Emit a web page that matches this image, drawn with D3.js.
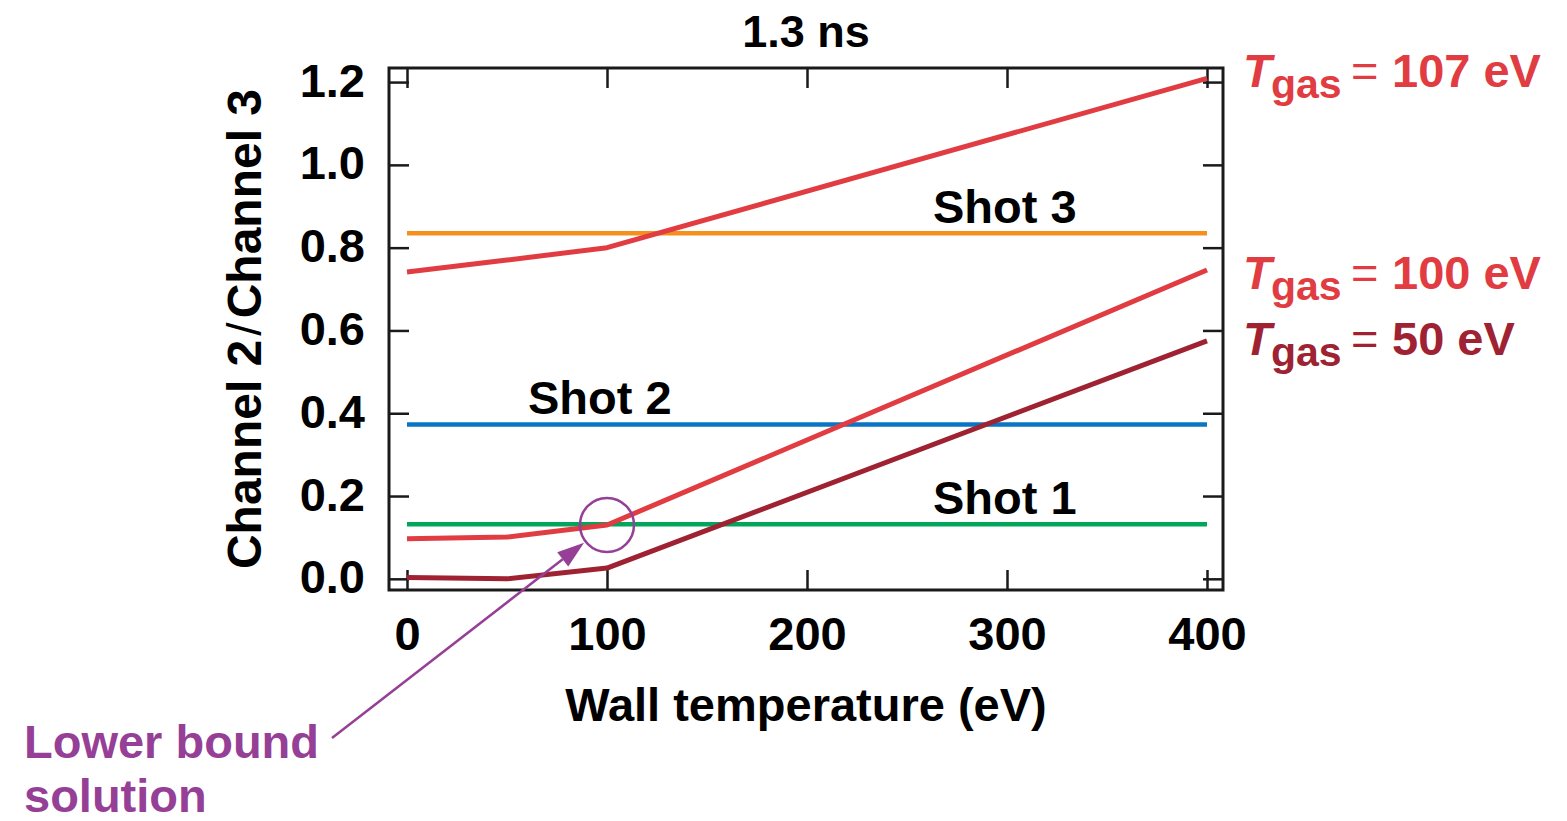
<!DOCTYPE html>
<html>
<head>
<meta charset="utf-8">
<script src="https://cdn.jsdelivr.net/npm/d3@7"></script>
<style>
  html, body { margin: 0; padding: 0; background: #fff; }
  svg { display: block; font-family: "Liberation Sans", Arial, Helvetica, sans-serif; }
</style>
</head>
<body>
<svg id="chart" width="1567" height="821"></svg>
<script>
// wall temperature (eV) where the model curves were computed
const wallTemps = [0, 50, 100, 400];

// channel ratio vs wall temperature, one array per gas temperature
const tgas107 = [0.741, 0.770, 0.800, 1.209];
const tgas100 = [0.097, 0.101, 0.130, 0.746];
const tgas50  = [0.003, 0.000, 0.026, 0.575];

// measured ratios (flat across wall temperature)
const shotNames  = ["Shot 3", "Shot 2", "Shot 1"];
const shotValues = [0.835, 0.373, 0.132];

const xTicks = [0, 100, 200, 300, 400];
const yTicks = [0, 0.2, 0.4, 0.6, 0.8, 1.0, 1.2];

const width = 1567, height = 821;
const marginLeft = 389, marginRight = 1223, marginTop = 68, marginBottom = 590;

const red = "#e03c42", darkRed = "#9e2232", purple = "#963f96";
const shotColors = ["#f4911e", "#0a75c2", "#00a65a"];

const svg = d3.select("#chart");

const x = d3.scaleLinear().domain([-9, 408]).range([marginLeft, marginRight]);
const y = d3.scaleLinear().domain([-0.027, 1.234]).range([marginBottom, marginTop]);

// 坐标轴：刻度朝内，四边都有
const tick = 20;
svg.append("g")
    .attr("transform", `translate(${marginLeft},0)`)
    .call(d3.axisLeft(y).tickValues(yTicks).tickSize(-tick).tickPadding(24).tickFormat(d3.format(".1f")))
    .call(g => g.select(".domain").remove())
    .call(g => g.selectAll(".tick line").attr("stroke", "#1a1a1a").attr("stroke-width", 2.5))
    .call(g => g.selectAll(".tick text")
        .attr("font-size", 47).attr("font-weight", "bold").attr("fill", "#000")
        .attr("dy", "0.3em"));

svg.append("g")
    .attr("transform", `translate(${marginRight},0)`)
    .call(d3.axisRight(y).tickValues(yTicks).tickSize(-tick).tickFormat(""))
    .call(g => g.select(".domain").remove())
    .call(g => g.selectAll(".tick line").attr("stroke", "#1a1a1a").attr("stroke-width", 2.5));

svg.append("g")
    .attr("transform", `translate(0,${marginBottom})`)
    .call(d3.axisBottom(x).tickValues(xTicks).tickSize(-tick).tickPadding(27))
    .call(g => g.select(".domain").remove())
    .call(g => g.selectAll(".tick line").attr("stroke", "#1a1a1a").attr("stroke-width", 2.5))
    .call(g => g.selectAll(".tick text")
        .attr("font-size", 47).attr("font-weight", "bold").attr("fill", "#000"));

svg.append("g")
    .attr("transform", `translate(0,${marginTop})`)
    .call(d3.axisTop(x).tickValues(xTicks).tickSize(-tick).tickFormat(""))
    .call(g => g.select(".domain").remove())
    .call(g => g.selectAll(".tick line").attr("stroke", "#1a1a1a").attr("stroke-width", 2.5));

// frame
svg.append("rect")
    .attr("x", marginLeft).attr("y", marginTop)
    .attr("width", marginRight - marginLeft).attr("height", marginBottom - marginTop)
    .attr("fill", "none").attr("stroke", "#1a1a1a").attr("stroke-width", 3);

// shots: horizontal lines
const flat = d3.line().x(d => x(d[0])).y(d => y(d[1]));
shotValues.forEach((v, i) => {
    svg.append("path")
        .attr("d", flat([[0, v], [400, v]]))
        .attr("fill", "none").attr("stroke", shotColors[i]).attr("stroke-width", 4.5);
});

const shotLabelX = [263, 60.5, 263];
shotNames.forEach((name, i) => {
    svg.append("text")
        .attr("x", x(shotLabelX[i]))
        .attr("y", y(shotValues[i]) - 10)
        .attr("font-size", 47).attr("font-weight", "bold").attr("fill", "#000")
        .text(name);
});

// model curves
const curves = [
    { vals: tgas107, color: red,     label: "107 eV", baseline: 87 },
    { vals: tgas100, color: red,     label: "100 eV", baseline: 289 },
    { vals: tgas50,  color: darkRed, label: "50 eV",  baseline: 355 }
];
const line = d3.line().x((d, i) => x(wallTemps[i])).y(d => y(d));
curves.forEach(c => {
    svg.append("path")
        .attr("d", line(c.vals))
        .attr("fill", "none").attr("stroke", c.color)
        .attr("stroke-width", 5).attr("stroke-linejoin", "round");

    const t = svg.append("text")
        .attr("y", c.baseline)
        .attr("font-size", 47).attr("font-weight", "bold").attr("fill", c.color);
    t.append("tspan").attr("x", 1243).attr("font-style", "italic").text("T");
    t.append("tspan").attr("x", 1271).attr("dy", 11).attr("font-size", 41).text("gas");
    t.append("tspan").attr("x", 1351).attr("dy", -11).attr("font-weight", "normal").text("=");
    t.append("tspan").attr("x", 1392).text(c.label);
});

// title
svg.append("text")
    .attr("x", (marginLeft + marginRight) / 2).attr("y", 47)
    .attr("text-anchor", "middle")
    .attr("font-size", 45).attr("font-weight", "bold").attr("fill", "#000")
    .text("1.3 ns");

// axis titles
svg.append("text")
    .attr("x", (marginLeft + marginRight) / 2).attr("y", 721)
    .attr("text-anchor", "middle")
    .attr("font-size", 47).attr("font-weight", "bold").attr("fill", "#000")
    .text("Wall temperature (eV)");

const yl = svg.append("text")
    .attr("transform", `translate(261,${(marginTop + marginBottom) / 2}) rotate(-90)`)
    .attr("text-anchor", "middle")
    .attr("font-size", 48).attr("font-weight", "bold").attr("fill", "#000");
yl.append("tspan").text("Channel 2");
yl.append("tspan").attr("dx", 4).attr("font-weight", "normal").text("/");
yl.append("tspan").attr("dx", 4).text("Channel 3");

// lower bound annotation
const cx = x(100), cy = y(0.13), r = 27;
svg.append("circle")
    .attr("cx", cx).attr("cy", cy).attr("r", r)
    .attr("fill", "none").attr("stroke", purple).attr("stroke-width", 2.5);

const tail = [332, 738];
const dx = tail[0] - cx, dy = tail[1] - cy, len = Math.hypot(dx, dy);
const ux = dx / len, uy = dy / len;
const tip = [cx + ux * 29, cy + uy * 29];
const headLen = 27, headW = 9;
const base = [tip[0] + ux * headLen, tip[1] + uy * headLen];
svg.append("line")
    .attr("x1", tail[0]).attr("y1", tail[1])
    .attr("x2", base[0]).attr("y2", base[1])
    .attr("stroke", purple).attr("stroke-width", 2.5);
svg.append("path")
    .attr("d", `M${tip[0]},${tip[1]} L${base[0] - uy * headW},${base[1] + ux * headW} L${base[0] + uy * headW},${base[1] - ux * headW} Z`)
    .attr("fill", purple);

svg.append("text")
    .attr("x", 24).attr("y", 758)
    .attr("font-size", 47).attr("font-weight", "bold").attr("fill", purple)
    .text("Lower bound");
svg.append("text")
    .attr("x", 24).attr("y", 812)
    .attr("font-size", 47).attr("font-weight", "bold").attr("fill", purple)
    .text("solution");
</script>
</body>
</html>
